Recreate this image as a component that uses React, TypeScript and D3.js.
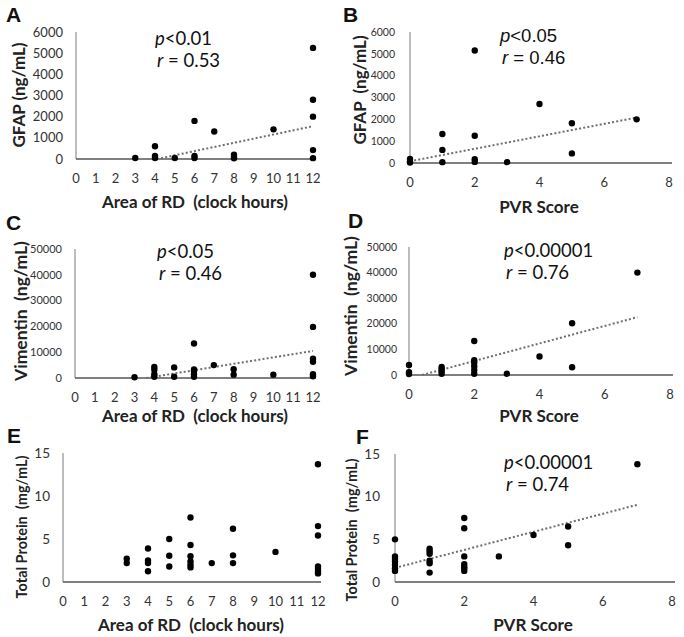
import * as d3 from "d3";

// data
const areaTicks = d3.range(0, 13);
const pvrTicks = [0, 2, 4, 6, 8];
const gfapTicks = [0, 1000, 2000, 3000, 4000, 5000, 6000];
const vimTicks = [0, 10000, 20000, 30000, 40000, 50000];
const protTicks = [0, 5, 10, 15];

const gfapVsArea: [number, number][] = [
  [3, 50], [4, 600], [4, 150], [4, 50], [5, 50], [6, 1800], [6, 150], [6, 50],
  [7, 1300], [8, 200], [8, 100], [8, 30], [10, 1400], [12, 5250], [12, 2800],
  [12, 2000], [12, 420], [12, 40],
];
const gfapVsPvr: [number, number][] = [
  [0, 180], [0, 60], [0, 20], [1, 1330], [1, 600], [1, 40], [2, 5150], [2, 1250],
  [2, 170], [2, 50], [3, 40], [4, 2700], [5, 1820], [5, 440], [7, 2000],
];
const vimVsArea: [number, number][] = [
  [3, 300], [4, 4300], [4, 3200], [4, 1500], [4, 500], [5, 4100], [5, 500],
  [6, 13400], [6, 3300], [6, 2500], [6, 1500], [6, 500], [7, 5000], [8, 3400],
  [8, 1300], [10, 1300], [12, 40000], [12, 19800], [12, 7500], [12, 6300],
  [12, 1500], [12, 700],
];
const vimVsPvr: [number, number][] = [
  [0, 3900], [0, 1100], [0, 400], [1, 3100], [1, 2300], [1, 1500], [1, 500],
  [2, 13300], [2, 5800], [2, 4800], [2, 3400], [2, 2000], [2, 500], [3, 500],
  [4, 7200], [5, 20200], [5, 3000], [7, 40000],
];
const protVsArea: [number, number][] = [
  [3, 2.7], [3, 2.2], [4, 3.9], [4, 2.5], [4, 2.2], [4, 1.25], [5, 5.0], [5, 3.05],
  [5, 1.8], [6, 7.5], [6, 4.3], [6, 3.0], [6, 2.4], [6, 2.0], [6, 1.7], [7, 2.2],
  [8, 6.2], [8, 3.1], [8, 2.2], [10, 3.5], [12, 13.7], [12, 6.5], [12, 5.4],
  [12, 1.8], [12, 1.5], [12, 1.2], [12, 1.0],
];
const protVsPvr: [number, number][] = [
  [0, 5.0], [0, 3.0], [0, 2.7], [0, 2.4], [0, 2.0], [0, 1.6], [0, 1.3], [1, 3.9],
  [1, 3.6], [1, 3.3], [1, 2.5], [1, 2.2], [1, 1.1], [2, 7.5], [2, 6.3], [2, 3.0],
  [2, 2.1], [2, 1.8], [2, 1.6], [2, 1.3], [3, 3.0], [4, 5.5], [5, 6.5], [5, 4.3],
  [7, 13.8],
];

// trendline end points (as drawn)
const trendA: [number, number][] = [[4.1, 0], [12, 1550]];
const trendB: [number, number][] = [[0, 80], [7, 2080]];
const trendC: [number, number][] = [[3.6, 0], [12, 10500]];
const trendD: [number, number][] = [[0.4, 0], [7, 22600]];
const trendF: [number, number][] = [[0, 1.65], [7, 9.05]];

const statsA = ["<0.01", "0.53"];
const statsB = ["<0.05", "0.46"];
const statsC = ["<0.05", "0.46"];
const statsD = ["<0.00001", "0.76"];
const statsF = ["<0.00001", "0.74"];

const axisFont = "Lato, 'Open Sans', sans-serif";

type PanelProps = {
  letter: string;
  letterPos: [number, number];
  xRange: [number, number];
  yRange: [number, number]; // [bottom, top]
  xTicks: number[];
  yTicks: number[];
  yTickSize: number;
  yTickGap?: number;
  data: [number, number][];
  trend?: [number, number][];
  stats?: string[];
  statsPos?: [number, number];
  statsFont?: string;
  xTitle: string;
  xTitlePos: [number, number];
  yTitle: string;
  yTitlePos: [number, number];
  yTitleSize: number;
};

function Panel(p: PanelProps) {
  const x = d3.scaleLinear()
    .domain([p.xTicks[0], p.xTicks[p.xTicks.length - 1]])
    .range(p.xRange);
  const y = d3.scaleLinear()
    .domain([p.yTicks[0], p.yTicks[p.yTicks.length - 1]])
    .range(p.yRange);
  const line = d3.line<[number, number]>().x((d) => x(d[0])).y((d) => y(d[1]));
  const x0 = p.xRange[0];
  const yb = p.yRange[0];
  const gap = p.yTickGap ?? 13;
  return (
    <g>
      <text x={p.letterPos[0]} y={p.letterPos[1]} fontFamily="'Liberation Sans', Arial, sans-serif"
        fontWeight="bold" fontSize={21} fill="#111">{p.letter}</text>
      <line x1={x0} x2={x0} y1={p.yRange[1]} y2={yb} stroke="#9a9a9a" strokeWidth={1.3} />
      <line x1={x0} x2={p.xRange[1] + 3} y1={yb} y2={yb} stroke="#555" strokeWidth={1.3} />
      {p.yTicks.map((t) => (
        <text key={t} x={x0 - gap} y={y(t)} dy="0.35em" textAnchor="end"
          fontFamily={axisFont} fontSize={p.yTickSize} fill="#333">{t}</text>
      ))}
      {p.xTicks.map((t) => (
        <text key={t} x={x(t)} y={yb + 24} textAnchor="middle"
          fontFamily={axisFont} fontSize={13} fill="#333">{t}</text>
      ))}
      {p.trend && (
        <path d={line(p.trend) || ""} fill="none" stroke="#6e6e6e" strokeWidth={2}
          strokeDasharray="2,2.2" />
      )}
      {p.data.map((d, i) => (
        <circle key={i} cx={x(d[0])} cy={y(d[1])} r={3.2} fill="#000" />
      ))}
      {p.stats && p.statsPos && (
        <g fontFamily={p.statsFont || axisFont} fontSize={18.5} fill="#111">
          <text x={p.statsPos[0]} y={p.statsPos[1]}>
            <tspan fontStyle="italic">p</tspan>{p.stats[0]}
          </text>
          <text x={p.statsPos[0] + 2} y={p.statsPos[1] + 22}>
            <tspan fontStyle="italic">r</tspan> = {p.stats[1]}
          </text>
        </g>
      )}
      <text x={p.xTitlePos[0]} y={p.xTitlePos[1]} textAnchor="middle" fontFamily={axisFont}
        fontWeight="bold" fontSize={17} fill="#222" style={{ whiteSpace: "pre" }}>{p.xTitle}</text>
      <text transform={`translate(${p.yTitlePos[0]},${p.yTitlePos[1]}) rotate(-90)`}
        textAnchor="middle" fontFamily={axisFont} fontWeight="bold" fontSize={p.yTitleSize}
        fill="#222" style={{ whiteSpace: "pre" }}>{p.yTitle}</text>
    </g>
  );
}

export default function App() {
  return (
    <svg width={684} height={637} style={{ position: "absolute", left: 0, top: 0, background: "#fff" }}>
      <Panel letter="A" letterPos={[6, 22]} xRange={[76, 313]} yRange={[159, 32]}
        xTicks={areaTicks} yTicks={gfapTicks} yTickSize={13} data={gfapVsArea}
        trend={trendA} stats={statsA} statsPos={[155, 45]}
        xTitle="Area of RD  (clock hours)" xTitlePos={[195, 208]}
        yTitle="GFAP (ng/mL)" yTitlePos={[25, 95]} yTitleSize={17} />
      <Panel letter="B" letterPos={[343, 22]} xRange={[410, 669]} yRange={[163, 32]}
        xTicks={pvrTicks} yTicks={gfapTicks} yTickSize={10.5} yTickGap={15} data={gfapVsPvr}
        trend={trendB} stats={statsB} statsPos={[500, 42]}
        statsFont="'Liberation Sans', Arial, sans-serif"
        xTitle="PVR Score" xTitlePos={[539, 213]}
        yTitle="GFAP  (ng/mL)" yTitlePos={[366, 90]} yTitleSize={17} />
      <Panel letter="C" letterPos={[6, 230]} xRange={[75, 313]} yRange={[378, 249]}
        xTicks={areaTicks} yTicks={vimTicks} yTickSize={11} data={vimVsArea}
        trend={trendC} stats={statsC} statsPos={[157, 258]}
        xTitle="Area of RD  (clock hours)" xTitlePos={[195, 422]}
        yTitle="Vimentin  (ng/mL)" yTitlePos={[27, 311]} yTitleSize={17.5} />
      <Panel letter="D" letterPos={[348, 228]} xRange={[409, 670]} yRange={[375, 247]}
        xTicks={pvrTicks} yTicks={vimTicks} yTickSize={10.5} yTickGap={12} data={vimVsPvr}
        trend={trendD} stats={statsD} statsPos={[504, 257]}
        xTitle="PVR Score" xTitlePos={[539, 422]}
        yTitle="Vimentin  (ng/mL)" yTitlePos={[357, 306]} yTitleSize={17.5} />
      <Panel letter="E" letterPos={[7, 443]} xRange={[63, 318]} yRange={[582, 453]}
        xTicks={areaTicks} yTicks={protTicks} yTickSize={13.5} data={protVsArea}
        xTitle="Area of RD  (clock hours)" xTitlePos={[191, 631]}
        yTitle="Total Protein  (mg/mL)" yTitlePos={[27, 527]} yTitleSize={14.5} />
      <Panel letter="F" letterPos={[356, 444]} xRange={[395, 672]} yRange={[582, 454]}
        xTicks={pvrTicks} yTicks={protTicks} yTickSize={13.5} yTickGap={15} data={protVsPvr}
        trend={trendF} stats={statsF} statsPos={[504, 469]}
        xTitle="PVR Score" xTitlePos={[533, 631]}
        yTitle="Total Protein  (mg/mL)" yTitlePos={[357, 530]} yTitleSize={14.5} />
    </svg>
  );
}
